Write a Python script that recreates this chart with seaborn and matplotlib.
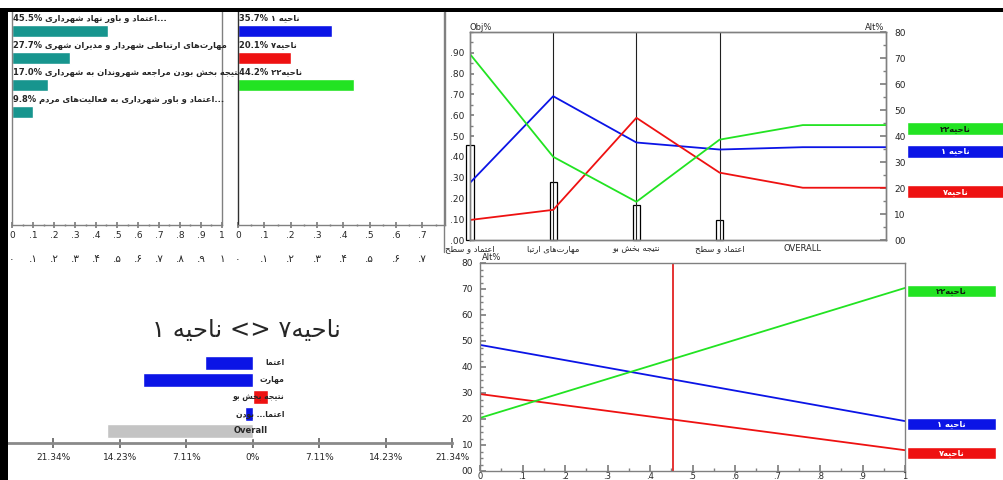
"""
Expert Choice style sensitivity dashboard (criteria weights, alternatives,
head-to-head, performance and gradient sensitivity) rebuilt with seaborn.
"""

import matplotlib
matplotlib.use("Agg")
import matplotlib.pyplot as plt
from matplotlib.lines import Line2D
from matplotlib.patches import Rectangle
from matplotlib.ticker import FixedLocator, MultipleLocator
import numpy as np
import pandas as pd
import seaborn as sns

# ──────────────────────────────────────────────────────────────────────
# Data
# ──────────────────────────────────────────────────────────────────────

criteria = [
    "اعتماد و باور نهاد شهرداری",
    "مهارت‌های ارتباطی شهردار و مدیران شهری",
    "نتیجه بخش بودن مراجعه شهروندان به شهرداری",
    "اعتماد و باور شهرداری به فعالیت‌های مردم",
]
criteria_short = ["اعتماد و سطح", "مهارت‌های ارتبا", "نتیجه بخش بو", "اعتماد و سطح"]
h2h_labels = ["اعتما", "مهارت", "نتیجه بخش بو", "اعتما... بودن", "Overall"]
crit_weights = [0.455, 0.277, 0.170, 0.098]

alternatives = ["ناحیه ۱", "ناحیه۷", "ناحیه۲۲"]
alt_overall = [0.357, 0.201, 0.442]

# performance sensitivity: alt % under each criterion
perf_values = {
    "ناحیه ۱": [22.0, 55.3, 37.5, 34.8],
    "ناحیه۷": [7.7, 11.6, 47.0, 25.9],
    "ناحیه۲۲": [71.5, 32.0, 14.7, 38.6],
}

# gradient sensitivity on the first criterion: alt % at weight 0 and 1
grad_values = {
    "ناحیه ۱": [48.5, 19.2],
    "ناحیه۷": [29.6, 8.0],
    "ناحیه۲۲": [20.4, 70.4],
}

# head to head ناحیه ۱ vs ناحیه۷ (negative = ناحیه ۱ better)
h2h_diff = [-5.1, -11.7, 1.6, -0.8, -15.6]
h2h_ticks = [-21.34, -14.23, -7.11, 0, 7.11, 14.23, 21.34]
h2h_ticklabels = ["21.34%", "14.23%", "7.11%", "0%", "7.11%", "14.23%", "21.34%"]
h2h_title = "ناحیه۷ <> ناحیه ۱"

# ──────────────────────────────────────────────────────────────────────
# Style
# ──────────────────────────────────────────────────────────────────────

W, H = 1004, 480
TEAL = "#17958E"
GRID = "#808080"
ALT_COLORS = ["#0B14E6", "#EE1111", "#22E322"]
ALT_TEXT = ["white", "white", "#102010"]
FS = 6.5

sns.set_theme(style="white")
plt.rcParams["font.family"] = ["DejaVu Sans"]
plt.rcParams["axes.edgecolor"] = GRID
plt.rcParams["axes.linewidth"] = 1.0

# tiny Persian shaper (no arabic_reshaper / bidi available offline)
FORMS = {
    "ا": ("\uFE8D", "\uFE8E", None, None),
    "ب": ("\uFE8F", "\uFE90", "\uFE91", "\uFE92"),
    "پ": ("\uFB56", "\uFB57", "\uFB58", "\uFB59"),
    "ت": ("\uFE95", "\uFE96", "\uFE97", "\uFE98"),
    "ث": ("\uFE99", "\uFE9A", "\uFE9B", "\uFE9C"),
    "ج": ("\uFE9D", "\uFE9E", "\uFE9F", "\uFEA0"),
    "چ": ("\uFB7A", "\uFB7B", "\uFB7C", "\uFB7D"),
    "ح": ("\uFEA1", "\uFEA2", "\uFEA3", "\uFEA4"),
    "خ": ("\uFEA5", "\uFEA6", "\uFEA7", "\uFEA8"),
    "د": ("\uFEA9", "\uFEAA", None, None),
    "ذ": ("\uFEAB", "\uFEAC", None, None),
    "ر": ("\uFEAD", "\uFEAE", None, None),
    "ز": ("\uFEAF", "\uFEB0", None, None),
    "ژ": ("\uFB8A", "\uFB8B", None, None),
    "س": ("\uFEB1", "\uFEB2", "\uFEB3", "\uFEB4"),
    "ش": ("\uFEB5", "\uFEB6", "\uFEB7", "\uFEB8"),
    "ص": ("\uFEB9", "\uFEBA", "\uFEBB", "\uFEBC"),
    "ض": ("\uFEBD", "\uFEBE", "\uFEBF", "\uFEC0"),
    "ط": ("\uFEC1", "\uFEC2", "\uFEC3", "\uFEC4"),
    "ظ": ("\uFEC5", "\uFEC6", "\uFEC7", "\uFEC8"),
    "ع": ("\uFEC9", "\uFECA", "\uFECB", "\uFECC"),
    "غ": ("\uFECD", "\uFECE", "\uFECF", "\uFED0"),
    "ف": ("\uFED1", "\uFED2", "\uFED3", "\uFED4"),
    "ق": ("\uFED5", "\uFED6", "\uFED7", "\uFED8"),
    "ک": ("\uFB8E", "\uFB8F", "\uFB90", "\uFB91"),
    "گ": ("\uFB92", "\uFB93", "\uFB94", "\uFB95"),
    "ل": ("\uFEDD", "\uFEDE", "\uFEDF", "\uFEE0"),
    "م": ("\uFEE1", "\uFEE2", "\uFEE3", "\uFEE4"),
    "ن": ("\uFEE5", "\uFEE6", "\uFEE7", "\uFEE8"),
    "ه": ("\uFEE9", "\uFEEA", "\uFEEB", "\uFEEC"),
    "و": ("\uFEED", "\uFEEE", None, None),
    "ی": ("\uFBFC", "\uFBFD", "\uFBFE", "\uFBFF"),
}
MIRROR = {"<": ">", ">": "<", "(": ")", ")": "("}


def shape(text):
    """Contextual forms + visual (reversed) order for a short RTL string."""
    if not any(c in FORMS for c in text):
        return text
    out = []
    for i, ch in enumerate(text):
        if ch not in FORMS:
            out.append(MIRROR.get(ch, ch))
            continue
        prev = text[i - 1] if i > 0 else ""
        nxt = text[i + 1] if i < len(text) - 1 else ""
        iso, fin, ini, med = FORMS[ch]
        join_prev = prev in FORMS and FORMS[prev][2] is not None
        join_next = ini is not None and nxt in FORMS
        if join_prev and join_next:
            out.append(med)
        elif join_prev:
            out.append(fin)
        elif join_next:
            out.append(ini)
        else:
            out.append(iso)
    return "".join(out).replace("\u200c", "")[::-1]


fig = plt.figure(figsize=(W / 100, H / 100), dpi=100)
fig.patch.set_facecolor("white")


def px_axes(x0, y0, x1, y1):
    return fig.add_axes([x0 / W, 1 - y1 / H, (x1 - x0) / W, (y1 - y0) / H])


def fa_digits(s):
    return s.translate(str.maketrans("0123456789", "۰۱۲۳۴۵۶۷۸۹"))


def bar_axis_ticks(ax, top):
    ticks = np.round(np.arange(0, top + 0.001, 0.1), 1)
    labels = ["0" if t == 0 else ("1" if t == 1 else f"{t:.1f}"[1:]) for t in ticks]
    ax.xaxis.set_major_locator(FixedLocator(ticks))
    ax.set_xticklabels(labels)
    ax.xaxis.set_minor_locator(MultipleLocator(0.05))
    ax.tick_params(axis="x", which="both", bottom=True, direction="inout",
                   length=4, color=GRID, labelsize=FS, pad=2)
    ax.tick_params(axis="x", which="minor", length=2)
    ax.set_yticks([])
    ax.set_xlabel("")
    ax.set_ylabel("")
    # second (Persian-digit) row of labels underneath
    sec = ax.secondary_xaxis(-0.115)
    sec.set_xticks(ticks, labels=[fa_digits(l) for l in labels])
    sec.tick_params(length=0, labelsize=7.5, pad=3)
    sec.spines["bottom"].set_visible(False)


# ──────────────────────────────────────────────────────────────────────
# Panel A: criteria priorities
# ──────────────────────────────────────────────────────────────────────

axA = px_axes(12, 12, 222, 225)
dfA = pd.DataFrame({"crit": criteria, "w": crit_weights})
sns.barplot(data=dfA, x="w", y="crit", orient="h", color=TEAL, saturation=1,
            width=0.44, ax=axA)
axA.set_xlim(0, 1)
axA.set_ylim(7.19, -0.70)
bar_axis_ticks(axA, 1.0)
axA.spines["top"].set_visible(False)
for i, (name, w) in enumerate(zip(criteria, crit_weights)):
    tail = "..." if i in (0, 3) else ""
    axA.text(0.004, i - 0.47, f"{w * 100:.1f}% " + shape(name) + tail,
             ha="left", va="center", fontsize=6, fontweight="bold")

# ──────────────────────────────────────────────────────────────────────
# Panel B: alternative priorities
# ──────────────────────────────────────────────────────────────────────

axB = px_axes(238, 12, 445, 225)
dfB = pd.DataFrame({"alt": alternatives, "share": alt_overall})
sns.barplot(data=dfB, x="share", y="alt", hue="alt", palette=ALT_COLORS,
            orient="h", saturation=1, width=0.44, legend=False, ax=axB)
axB.set_xlim(0, 0.786)
axB.set_ylim(7.19, -0.70)
bar_axis_ticks(axB, 0.7)
axB.spines["top"].set_visible(False)
axB.spines["left"].set_color("#303030")
for i, (name, s) in enumerate(zip(alternatives, alt_overall)):
    axB.text(0.003, i - 0.47, f"{s * 100:.1f}% " + shape(name),
             ha="left", va="center", fontsize=6, fontweight="bold")

# ──────────────────────────────────────────────────────────────────────
# Panel C: head to head
# ──────────────────────────────────────────────────────────────────────

axC = px_axes(8, 280, 452, 443)
h2h_colors = [ALT_COLORS[0] if d < 0 else ALT_COLORS[1] for d in h2h_diff[:-1]]
h2h_colors.append("#C4C4C4")
dfC = pd.DataFrame({"row": h2h_labels, "diff": h2h_diff})
sns.barplot(data=dfC, x="diff", y="row", hue="row", palette=h2h_colors,
            orient="h", saturation=1, width=0.84, legend=False, ax=axC)
axC.set_xlim(-26.2, 21.3)
axC.set_ylim(4.71, -4.88)
for s in ["top", "left", "right"]:
    axC.spines[s].set_visible(False)
axC.spines["bottom"].set_linewidth(2)
axC.spines["bottom"].set_color("#8a8a8a")
axC.set_xticks(h2h_ticks, labels=h2h_ticklabels)
axC.tick_params(axis="x", bottom=True, direction="inout", length=7, width=1.2,
                color="#606060", labelsize=FS, pad=4)
axC.set_yticks([])
axC.set_xlabel("")
axC.set_ylabel("")
for i, lab in enumerate(h2h_labels[:-1]):
    axC.text(3.4, i, shape(lab), ha="right", va="center", fontsize=5.5,
             fontweight="bold")
axC.text(-0.2, len(h2h_labels) - 1, h2h_labels[-1], ha="center", va="center",
         fontsize=6, fontweight="bold")
axC.text(0.536, 0.693, shape(h2h_title), transform=axC.transAxes,
         ha="center", va="center", fontsize=17.5)

# ──────────────────────────────────────────────────────────────────────
# Panel D: performance sensitivity
# ──────────────────────────────────────────────────────────────────────

axD = px_axes(470, 32, 886, 240)
n_crit = len(criteria)
sns.barplot(x=list(range(n_crit)), y=crit_weights, native_scale=True,
            color="white", edgecolor="black", linewidth=0.9, width=0.085,
            saturation=1, ax=axD)
for p in axD.patches:
    p.set_clip_on(False)
for i in range(1, n_crit):
    axD.axvline(i, color="#202020", lw=0.8)
axD.set_xlim(0, n_crit + 1)
axD.set_ylim(0, 1)
axD.set_xticks(range(n_crit + 1),
               labels=[shape(c) for c in criteria_short] + ["OVERALL"])
axD.tick_params(axis="x", length=0, labelsize=6, pad=3)
axD.yaxis.set_major_locator(FixedLocator(np.round(np.arange(0, 0.91, 0.1), 1)))
axD.set_yticklabels([f"{v:.2f}"[1:] for v in np.arange(0, 0.91, 0.1)])
axD.yaxis.set_minor_locator(MultipleLocator(0.05))
axD.tick_params(axis="y", which="both", left=True, direction="in", length=3,
                color=GRID, labelsize=FS, pad=4)
axD.tick_params(axis="y", which="minor", length=2)
axD.set_xlabel("")
axD.set_ylabel("")
axD.text(0, 1.02, "Obj%", transform=axD.transAxes, ha="left", va="center",
         fontsize=6)

axR = axD.twinx()
rows = []
for alt in alternatives:
    vals = perf_values[alt] + [alt_overall[alternatives.index(alt)] * 100]
    vals = vals + [vals[-1]]
    for x, v in enumerate(vals):
        rows.append({"alt": alt, "x": x, "val": v})
dfD = pd.DataFrame(rows)
sns.lineplot(data=dfD, x="x", y="val", hue="alt", palette=ALT_COLORS,
             legend=False, linewidth=1.3, ax=axR)
axR.set_ylim(0, 80)
axR.set_xlim(0, n_crit + 1)
axR.set_yticks(range(0, 81, 10), labels=[f"{v:02d}" for v in range(0, 81, 10)])
axR.yaxis.set_minor_locator(MultipleLocator(5))
axR.tick_params(axis="y", which="both", right=True, direction="in", length=4,
                color=GRID, labelsize=FS, pad=6)
axR.tick_params(axis="y", which="minor", length=2)
axR.set_xlabel("")
axR.set_ylabel("")
axR.text(0.997, 1.024, "Alt%", transform=axR.transAxes, ha="right",
         va="center", fontsize=6)

# alternative tags at the right of the performance chart
axLT = px_axes(907, 32, 1004, 240)
tag_top = [v * 100 - 1.5 for v in alt_overall]
axLT.barh(tag_top, 1, height=5, color=ALT_COLORS, align="center")
axLT.set_xlim(0, 1)
axLT.set_ylim(0, 80)
axLT.axis("off")
for y, name, tc in zip(tag_top, alternatives, ALT_TEXT):
    axLT.text(0.5, y, shape(name), ha="center", va="center", fontsize=6,
              color=tc, fontweight="bold")

# ──────────────────────────────────────────────────────────────────────
# Panel E: gradient sensitivity on first criterion
# ──────────────────────────────────────────────────────────────────────

axE = px_axes(480, 263, 905, 471)
rows = []
for alt in alternatives:
    for x, v in zip([0, 1], grad_values[alt]):
        rows.append({"alt": alt, "x": x, "val": v})
dfE = pd.DataFrame(rows)
sns.lineplot(data=dfE, x="x", y="val", hue="alt", palette=ALT_COLORS,
             legend=False, linewidth=1.3, ax=axE)
axE.axvline(crit_weights[0], color="#E01010", lw=1.2)
axE.set_xlim(0, 1)
axE.set_ylim(0, 80)
xt = np.round(np.arange(0, 1.01, 0.1), 1)
axE.set_xticks(xt, labels=["0" if t == 0 else ("1" if t == 1 else f"{t:.1f}"[1:])
                           for t in xt])
axE.set_yticks(range(0, 81, 10), labels=[f"{v:02d}" for v in range(0, 81, 10)])
axE.yaxis.set_minor_locator(MultipleLocator(2.5))
axE.xaxis.set_minor_locator(MultipleLocator(0.05))
axE.tick_params(axis="both", which="both", left=True, bottom=True,
                direction="in", length=4, color=GRID, labelsize=FS, pad=5)
axE.tick_params(axis="x", labelsize=6, pad=0.5)
axE.tick_params(axis="both", which="minor", length=2)
axE.set_xlabel("")
axE.set_ylabel("")
axE.text(0.005, 1.026, "Alt%", transform=axE.transAxes, ha="left",
         va="center", fontsize=6)

axLB = px_axes(907, 263, 996, 471)
tag_bot = [grad_values[a][1] - 1.0 for a in alternatives]
axLB.barh(tag_bot, 1, height=4.6, color=ALT_COLORS, align="center")
axLB.set_xlim(0, 1)
axLB.set_ylim(0, 80)
axLB.axis("off")
for y, name, tc in zip(tag_bot, alternatives, ALT_TEXT):
    axLB.text(0.5, y, shape(name), ha="center", va="center", fontsize=6,
              color=tc, fontweight="bold")

# ──────────────────────────────────────────────────────────────────────
# Window frame
# ──────────────────────────────────────────────────────────────────────

fig.add_artist(Rectangle((0, 1 - 12 / H), 1, 4 / H, transform=fig.transFigure,
                         color="black", lw=0))
fig.add_artist(Rectangle((0, 0), 8 / W, 1 - 8 / H, transform=fig.transFigure,
                         color="black", lw=0))
fig.add_artist(Line2D([444 / W, 444 / W], [1 - 252 / H, 1 - 12 / H],
                      transform=fig.transFigure, color=GRID, lw=1))

fig.savefig("out.png", dpi=100)
